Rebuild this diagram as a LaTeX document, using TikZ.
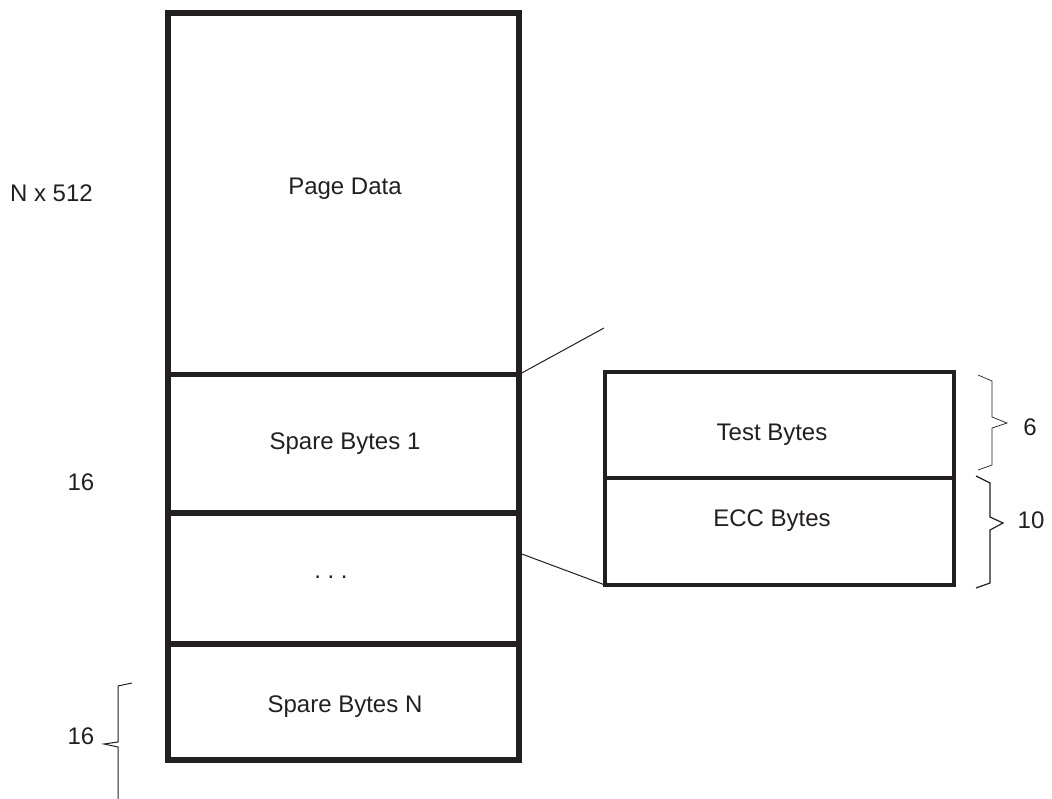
\documentclass[tikz,border=0pt]{standalone}
\usepackage{fontspec}
\setmainfont{Liberation Sans}
\usetikzlibrary{calc}
\definecolor{ink}{HTML}{231F20}
\begin{document}
\begin{tikzpicture}[x=1pt,y=-1pt,
  colbox/.style={draw=ink,line width=5.3pt,minimum width=351pt,inner sep=0pt,outer sep=0pt},
  sparebox/.style={draw=ink,line width=4pt,minimum width=349pt,inner sep=0pt,outer sep=0pt},
  txt/.style={text=ink,font=\fontsize{24}{28}\selectfont,inner sep=0pt,anchor=base},
  thin/.style={draw=ink,line width=1pt},
  brace/.style={draw=ink,line width=1pt,line join=miter}]
\useasboundingbox (0,0) rectangle (1052,799);
% page column
\node[colbox,minimum height=361.5pt] (pd) at (343.5,193.75) {};
\node[colbox,minimum height=138.5pt] (sb1) at (343.5,443.75) {};
\node[colbox,minimum height=131pt] (dots) at (343.5,578.5) {};
\node[colbox,minimum height=116pt] (sbn) at (343.5,702) {};
\node[txt] (pdt) at (345,195) {Page Data};
\node[txt] (sb1t) at (345,449) {Spare Bytes 1};
\node[txt] (dotst) at (331,578) {.\ .\ .};
\node[txt] (sbnt) at (345,712.5) {Spare Bytes N};
% spare area detail
\node[sparebox,minimum height=106pt] (tb) at (779.5,425) {};
\node[sparebox,minimum height=107pt] (ecc) at (779.5,531.5) {};
\node[txt] (tbt) at (772,440) {Test Bytes};
\node[txt] (ecct) at (772,526) {ECC Bytes};
% sizes
\node[txt,anchor=base east] (nsz) at (93,202) {N x 512};
\node[txt] (sz1) at (81,490) {16};
\node[txt] (szn) at (81,744) {16};
\node[txt] (szt) at (1030,435) {6};
\node[txt] (sze) at (1031,528) {10};
% zoom lines
\coordinate (zoomtop) at (604,328);
\coordinate (zoomfoot) at ($(dots.north east)!0.305!(dots.south east)$);
\draw[thin] (sb1.north east) -- (zoomtop);
\draw[thin] (zoomfoot) -- (ecc.south west);
% braces
\draw[brace,line width=0.7pt] (978,375) -- (992,381) -- (992,417) -- (1007,423)
  -- (992,428) -- (992,465) -- (978,470);
\draw[brace,line width=1.2pt] (976,476) -- (990,483) -- (990,517) -- (1003,523)
  -- (990,530) -- (990,583) -- (976,588);
\draw[brace] (132,683) -- (118,686) -- (118,742) -- (104,744)
  -- (118,747) -- (118,799);
\end{tikzpicture}
\end{document}
